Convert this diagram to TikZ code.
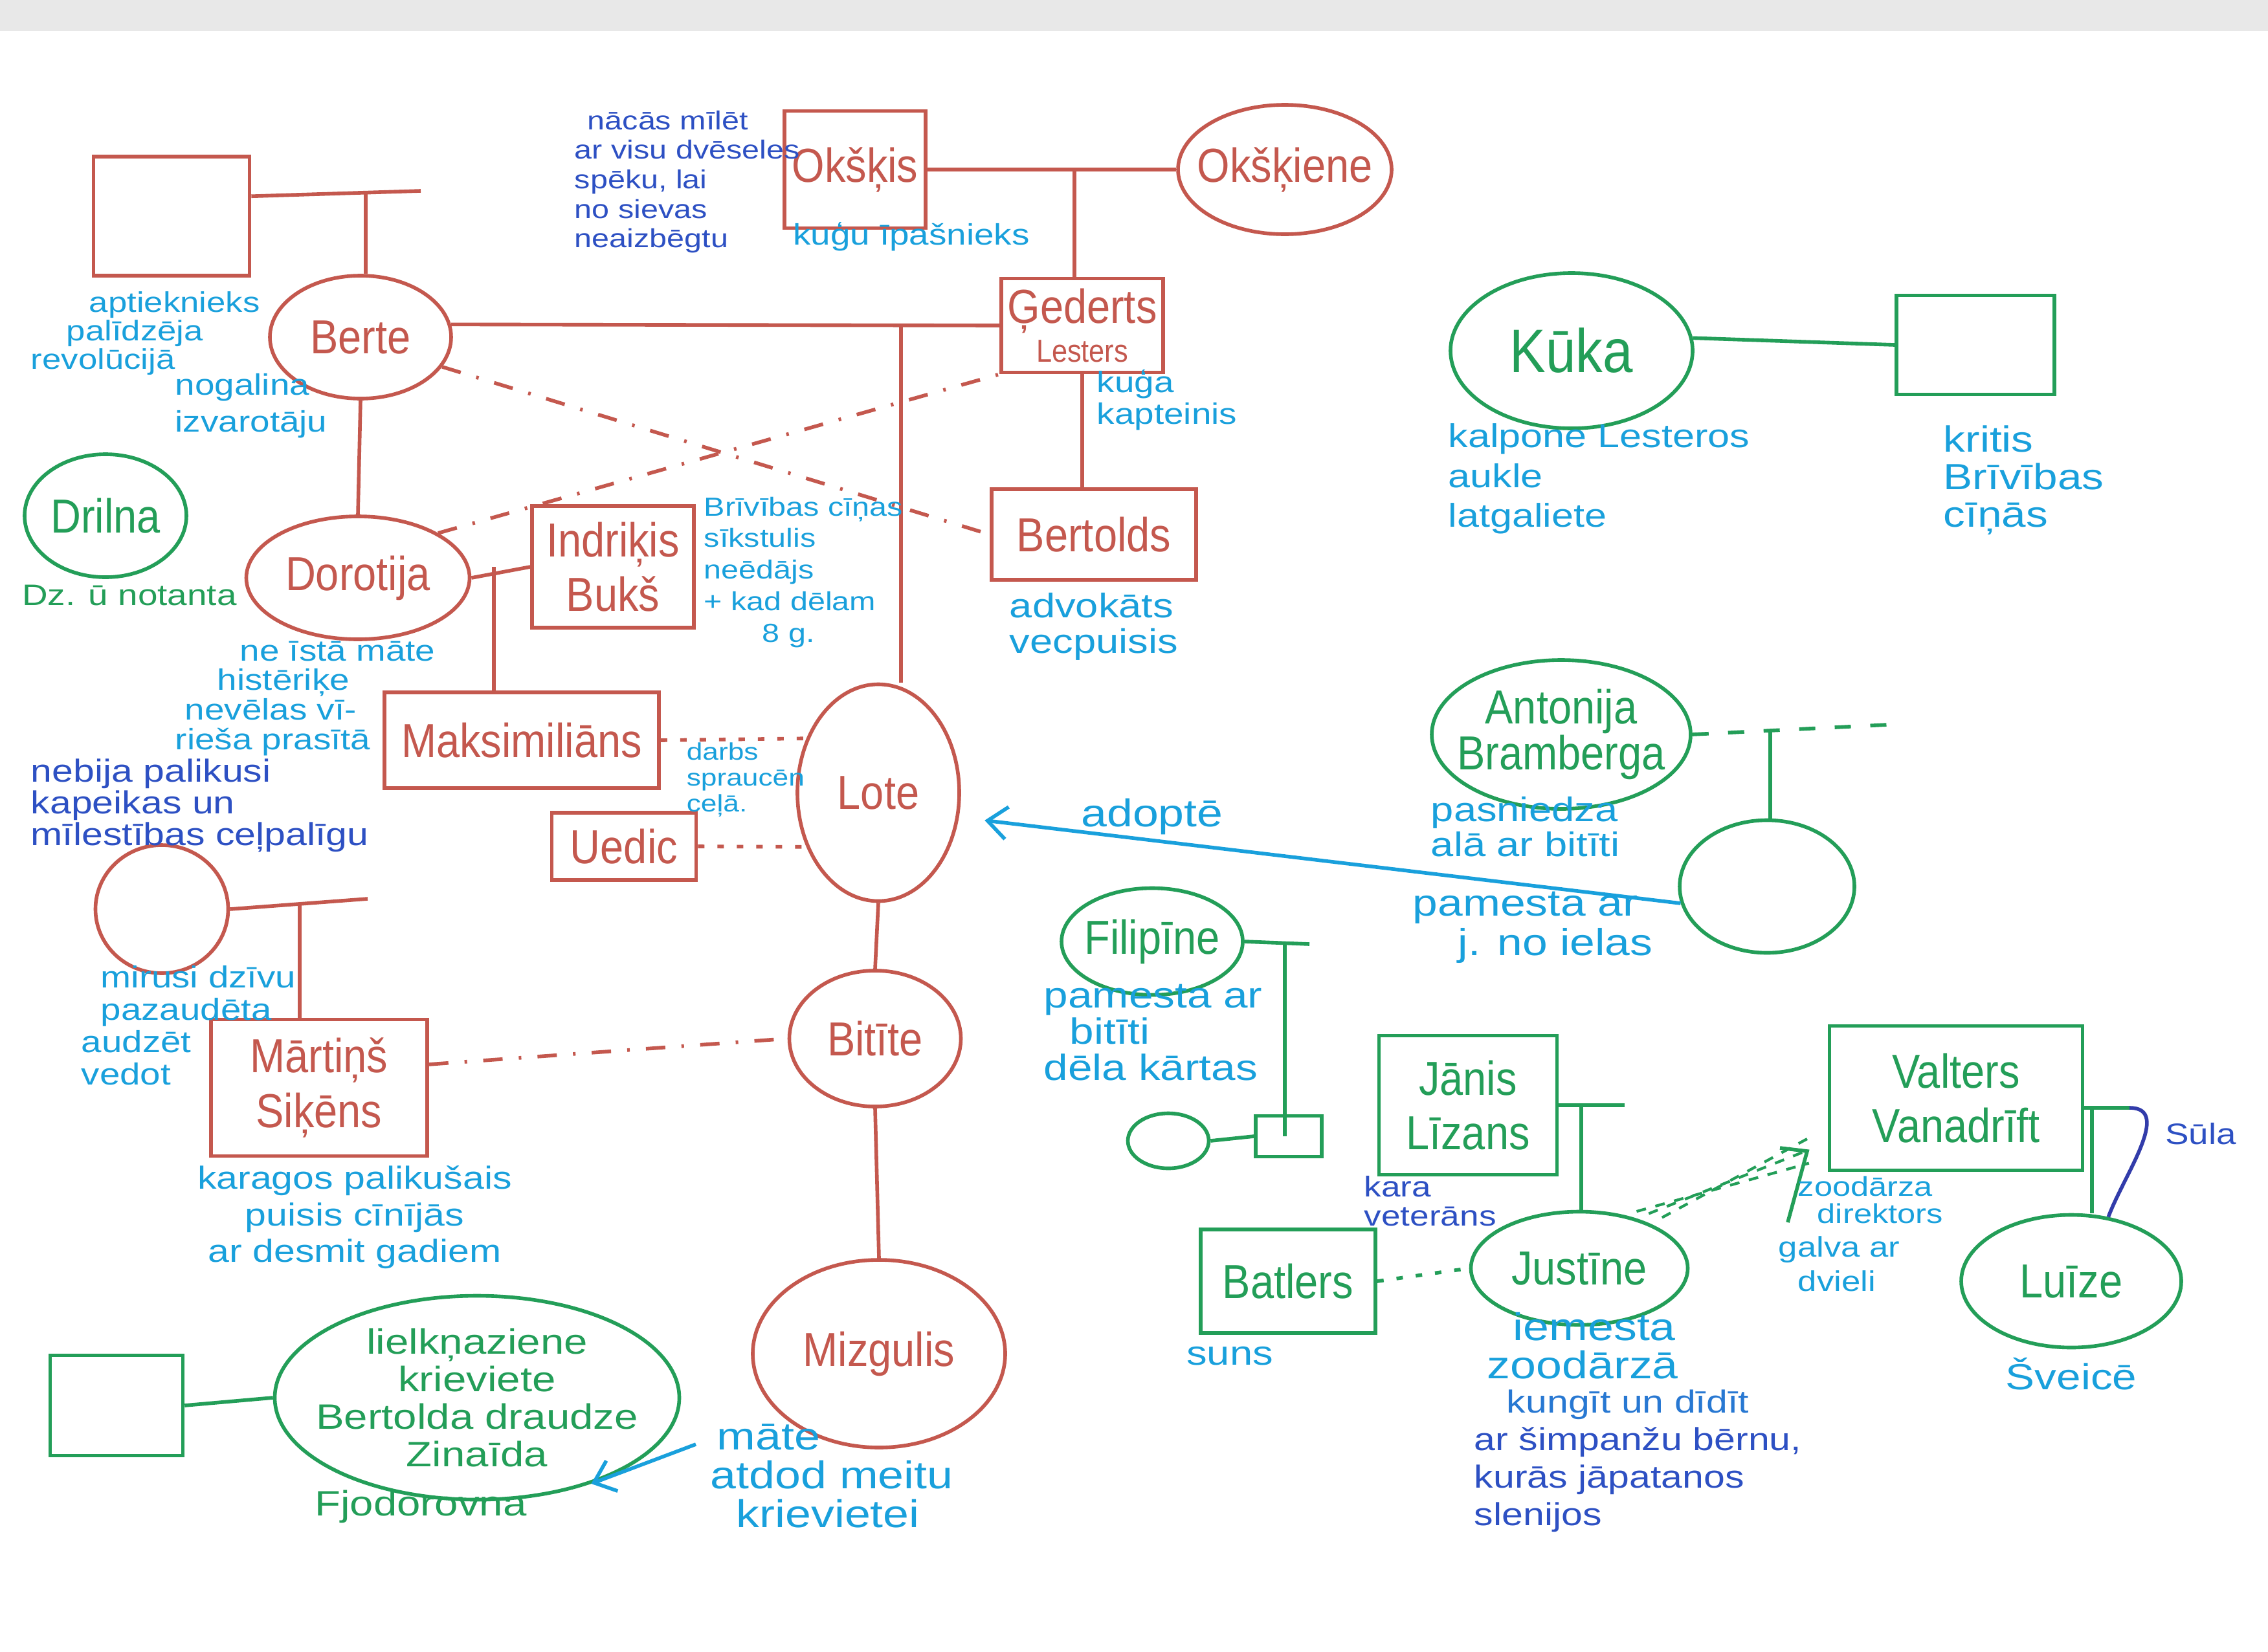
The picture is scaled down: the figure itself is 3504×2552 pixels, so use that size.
\documentclass[tikz,border=0pt]{standalone}
\usepackage{fontspec}
\setmainfont{Liberation Sans}[FakeStretch=0.88]
\newfontfamily\notefam{Liberation Sans}[FakeStretch=1.2]
\usetikzlibrary{positioning,shapes.geometric,arrows.meta}

\definecolor{inkred}{RGB}{196,88,78}
\definecolor{inkgreen}{RGB}{35,158,88}
\definecolor{inkcyan}{RGB}{25,160,220}
\definecolor{inkmid}{RGB}{40,120,210}
\definecolor{inkblue}{RGB}{45,80,195}
\definecolor{inknavy}{RGB}{50,60,170}

\newcommand\namefont{\fontsize{21}{24}\selectfont}
\newcommand\bigname{\fontsize{27}{30}\selectfont}
\newcommand\nf[2]{\notefam\fontsize{#1}{#2}\selectfont}
\lineskiplimit=-100pt

\begin{document}
\begin{tikzpicture}[x=0.1mm,y=-0.1mm,line width=1.6pt,
    >={Straight Barb[length=3mm,width=5mm]},
    man/.style={draw,rectangle,inner sep=1pt,align=center,font=\namefont},
    woman/.style={draw,ellipse,inner xsep=-3mm,inner ysep=-1mm,align=center,font=\namefont},
    fam/.style={inkred},
    oth/.style={inkgreen},
    note/.style={inkcyan,font=\nf{14}{14},align=left,inner sep=0pt},
    deep/.style={inkblue,font=\nf{14}{14},align=left,inner sep=0pt},
    gnote/.style={inkgreen,font=\nf{14}{14},align=left,inner sep=0pt},
    lover/.style={dash pattern=on 3mm off 2.5mm on 0.4mm off 2.5mm},
    tie/.style={dash pattern=on 1mm off 2mm}]
   \useasboundingbox (0,0) rectangle (3504,2552);
   \fill[white] (0,0) rectangle (3504,2552);
   \fill[black!9] (0,0) rectangle (3504,48);

   % the family, red
   \node[man,fam,minimum width=24.1mm,minimum height=18.4mm] (p_box0) at (265,334) {};
   \node[woman,fam,minimum width=28mm,minimum height=19mm] (p_berte) at (557,521) {Berte};
   \node[man,fam,minimum width=21.8mm,minimum height=18.1mm] (p_okskis) at (1321,262) {Okšķis};
   \node[woman,fam,minimum width=33mm,minimum height=20mm] (p_okskiene) at (1985,262) {Okšķiene};
   \node[man,fam,minimum width=25mm,minimum height=14.5mm] (p_gederts) at (1672,503) {Ģederts\\[-2.5mm]{\fontsize{14}{14}\selectfont Lesters}};
   \node[man,fam,minimum width=31.6mm,minimum height=14mm] (p_bertolds) at (1690,826) {Bertolds};
   \node[woman,fam,minimum width=34.5mm,minimum height=19mm] (p_dorotija) at (553,893) {Dorotija};
   \node[man,fam,minimum width=25mm,minimum height=18.8mm] (p_indrikis) at (947,876) {Indriķis\\Bukš};
   \node[man,fam,minimum width=42.4mm,minimum height=14.8mm] (p_maks) at (806,1144) {Maksimiliāns};
   \node[man,fam,minimum width=22.3mm,minimum height=10.4mm] (p_uedic) at (964,1308) {Uedic};
   \node[woman,fam,minimum width=25mm,minimum height=33.5mm] (p_lote) at (1357,1225) {Lote};
   \node[woman,fam,minimum width=26.5mm,minimum height=21mm] (p_bitite) at (1352,1605) {Bitīte};
   \node[woman,fam,minimum width=20.5mm,minimum height=19.8mm] (p_circ0) at (250,1405) {};
   \node[man,fam,minimum width=33.4mm,minimum height=21.1mm] (p_martins) at (493,1681) {Mārtiņš\\Siķēns};
   \node[woman,fam,minimum width=39mm,minimum height=29mm] (p_mizgulis) at (1358,2092) {Mizgulis};

   % the others, green
   \node[woman,oth,minimum width=25mm,minimum height=19mm] (p_drilna) at (163,797) {Drilna};
   \node[woman,oth,minimum width=37.4mm,minimum height=24mm,font=\bigname] (p_kuka) at (2428,542) {Kūka};
   \node[man,oth,minimum width=24.4mm,minimum height=15.3mm] (p_gbox1) at (3052,533) {};
   \node[woman,oth,minimum width=40mm,minimum height=23mm,font=\fontsize{21}{20}\selectfont] (p_antonija) at (2412,1135) {Antonija\\Bramberga};
   \node[woman,oth,minimum width=27mm,minimum height=20.5mm] (p_circ1) at (2730,1370) {};
   \node[woman,oth,minimum width=28mm,minimum height=16.5mm] (p_filipine) at (1780,1455) {Filipīne};
   \node[man,oth,minimum width=10.2mm,minimum height=6.3mm] (p_gbox2) at (1991,1756) {};
   \node[woman,oth,minimum width=12.5mm,minimum height=8.5mm] (p_circ2) at (1805,1763) {};
   \node[man,oth,minimum width=27.5mm,minimum height=21.5mm] (p_janis) at (2268,1708) {Jānis\\Līzans};
   \node[man,oth,minimum width=27mm,minimum height=16mm] (p_batlers) at (1990,1980) {Batlers};
   \node[woman,oth,minimum width=33.5mm,minimum height=17.5mm] (p_justine) at (2440,1960) {Justīne};
   \node[man,oth,minimum width=39.1mm,minimum height=22.3mm] (p_valters) at (3022,1697) {Valters\\Vanadrīft};
   \node[woman,oth,minimum width=34mm,minimum height=20.5mm] (p_luize) at (3200,1980) {Luīze};
   \node[man,oth,minimum width=20.5mm,minimum height=15.5mm] (p_gbox3) at (180,2172) {};
   \node[woman,oth,minimum width=62.5mm,minimum height=31.5mm,font=\nf{15.5}{16.5}] (p_zinaida) at (737,2160) {lielkņaziene\\krieviete\\Bertolda draudze\\Zinaīda};

   \coordinate (m_0) at (650,295);
   \coordinate (k_0) at (565,300);
   \coordinate (k_1) at (1660,262);
   \coordinate (k_2) at (1392,503);
   \coordinate (k_3) at (763,876);
   \coordinate (m_1) at (568,1389);
   \coordinate (k_4) at (463,1395);
   \coordinate (d_0) at (2916,1120);
   \coordinate (k_5) at (2735,1128);
   \coordinate (m_2) at (2023,1459);
   \coordinate (k_6) at (1985,1459);
   \coordinate (m_3) at (2510,1708);
   \coordinate (k_7) at (2443,1708);
   \coordinate (m_4) at (3290,1712);
   \coordinate (k_8) at (3232,1712);
   \coordinate (a_0) at (1075,2232);

    \path[fam]
    (p_box0.14) edge (m_0)
    (k_0) edge (k_0 |- p_berte.north)
    (p_okskis.east) edge (p_okskiene.west)
    (k_1) edge (k_1 |- p_gederts.north)
    (p_berte.8) edge (p_gederts.west)
    (k_2) edge (k_2 |- p_lote.north)
    (p_gederts.south) edge (p_gederts.south |- p_bertolds.north)
    (p_berte.south) edge (p_dorotija.north)
    (p_dorotija.east) edge (p_indrikis.west)
    (k_3) edge (k_3 |- p_maks.north)
    (p_lote.south) edge (p_bitite.north)
    (p_bitite.south) edge (p_mizgulis.north)
    (p_circ0.east) edge (m_1)
    (k_4) edge (k_4 |- p_martins.north);
    \path[fam,lover]
    (p_berte.-20) edge (p_bertolds.west)
    (p_dorotija.north east) edge (p_gederts.south west)
    (p_martins.12) edge (p_bitite.west);
    \path[fam,tie]
    (p_maks.east) edge (p_lote.143)
    (p_uedic.east) edge (p_lote.217);

    \path[oth]
    (p_kuka.6) edge (p_gbox1.west)
    (k_5) edge (k_5 |- p_circ1.north)
    (p_filipine.east) edge (m_2)
    (k_6) edge (k_6 |- p_gbox2.center)
    (p_circ2.east) edge (p_gbox2.west)
    (p_janis.east) edge (m_3)
    (k_7) edge (k_7 |- p_justine.north)
    (p_valters.east |- m_4) edge (m_4)
    (k_8) edge (k_8 |- p_luize.north)
    (p_gbox3.east) edge (p_zinaida.west);
    \path[oth,dash pattern=on 2.5mm off 3mm] (p_antonija.east) edge (d_0);
    \path[oth,tie] (p_batlers.east) edge (p_justine.west);
    \path[oth,line width=1.2pt,dash pattern=on 1.5mm off 1.5mm,shorten <=2mm,shorten >=3mm]
    (p_justine.32) edge (p_valters.193)
    (p_justine.41) edge (p_valters.199)
    (p_justine.50) edge (p_valters.205);
   \draw[oth] (2750,1774) -- (2792,1779) -- (2762,1889);
   \draw[inknavy] (m_4) to[out=0,in=70] (p_luize.60);

    \path[->,inkcyan]
    (p_circ1.191) edge[shorten >=4mm] (p_lote.-17)
    (a_0) edge (p_zinaida.-37);

   % notes
   \node[deep,font=\nf{11.5}{13},anchor=north west] (n_mil) at (885,168) {\hspace*{2mm}nācās mīlēt\\ar visu dvēseles\\spēku, lai\\no sievas\\neaizbēgtu};
   \node[note,font=\nf{13}{13}] (n_okskis) at (1408,366) {kuģu īpašnieks};
   \node[note,font=\nf{13}{14}] (n_kug) at (1803,618) {kuģa\\kapteinis};
   \node[note,font=\nf{15}{15.6}] (n_adv) [below=1.5mm of p_bertolds] {advokāts\\vecpuisis};
   \node[note,font=\nf{14.5}{17.5},anchor=north west] (n_kalp) at (2235,652) {kalpone Lesteros\\aukle\\latgaliete};
   \node[note,font=\nf{16}{16.5},anchor=north west] (n_krit) at (3000,655) {kritis\\Brīvības\\cīņās};
   \node[note,font=\nf{12.5}{12.5},anchor=north west] (n_apt) at (45,448) {\hspace*{9mm}aptieknieks\\\hspace*{5.5mm}palīdzēja\\revolūcijā};
   \node[note,font=\nf{13}{16},anchor=north west] (n_nog) at (268,575) {nogalina\\izvarotāju};
   \node[gnote,font=\nf{13}{13}] (n_drilna) at (200,920) {Dz. ū notanta};
   \node[note,font=\nf{13}{13},anchor=north west] (n_nav) at (268,988) {\hspace*{10mm}ne īstā māte\\\hspace*{6.5mm}histēriķe\\\hspace*{1.5mm}nevēlas vī-\\rieša prasītā};
   \node[deep,font=\nf{14}{14},anchor=north west] (n_neb) at (45,1170) {nebija palikusi\\kapeikas un\\mīlestības ceļpalīgu};
   \node[note,font=\nf{11.5}{13.9},anchor=north west] (n_briv) at (1085,765) {Brīvības cīņas\\sīkstulis\\neēdājs\\+ kad dēlam\\\hspace*{9mm}8 g.};
   \node[note,font=\nf{10.5}{11.3},anchor=north west] (n_darbs) at (1058,1145) {darbs\\spraucēn\\ceļā.};
   \node[note,font=\nf{13.4}{14.2},anchor=north west] (n_mir) at (123,1490) {\hspace*{3mm}mirusi dzīvu\\\hspace*{3mm}pazaudēta\\audzēt\\vedot};
   \node[note,font=\nf{14}{16},align=center] (n_kar) [below=1mm of p_martins,xshift=5.5mm] {karagos palikušais\\puisis cīnījās\\ar desmit gadiem};
   \node[gnote,font=\nf{15.5}{16}] (n_fjod) at (650,2328) {Fjodorovna};
   \node[note,font=\nf{17}{17},anchor=north west] (n_mate) at (1095,2198) {\hspace*{1mm}māte\\atdod meitu\\\hspace*{4mm}krievietei};
   \node[note,font=\nf{17}{17}] (n_adopte) at (1780,1262) {adoptē};
   \node[note,font=\nf{15}{15.5},anchor=north west] (n_anton_1) at (2208,1228) {pasniedza\\alā ar bitīti};
   \node[note,font=\nf{16.5}{17.3},anchor=north west] (n_anton_2) at (2180,1375) {pamesta ar\\\hspace*{7mm}j. no ielas};
   \node[note,font=\nf{16}{16},anchor=north west] (n_filip) at (1610,1518) {pamesta ar\\\hspace*{4mm}bitīti\\dēla kārtas};
   \node[deep,font=\nf{12.6}{12.8},anchor=north west] (n_kara) at (2105,1815) {kara\\veterāns};
   \node[note,font=\nf{15}{15}] (n_suns) [below=1.5mm of p_batlers,xshift=-9mm] {suns};
   \node[note,font=\nf{17}{17},anchor=north west] (n_just_1) at (2295,2025) {\hspace*{4mm}iemesta\\zoodārzā};
   \node[deep,font=\nf{14}{16.5},anchor=north west] (n_just_2) at (2275,2145) {\hspace*{5mm}\textcolor{inkmid}{kungīt un dīdīt}\\ar šimpanžu bērnu,\\kurās jāpatanos\\slenijos};
   \node[note,font=\nf{12}{12},anchor=north west] (n_zoo) at (2775,1815) {zoodārza\\\hspace*{3mm}direktors};
   \node[note,font=\nf{12.5}{15},anchor=north west] (n_galva) at (2745,1908) {galva ar\\\hspace*{3mm}dvieli};
   \node[note,font=\nf{16}{16}] (n_sveice) [below=1mm of p_luize] {Šveicē};
   \node[deep,font=\nf{13}{13}] (n_sula) at (3400,1752) {Sūla};
\end{tikzpicture}
\end{document}
